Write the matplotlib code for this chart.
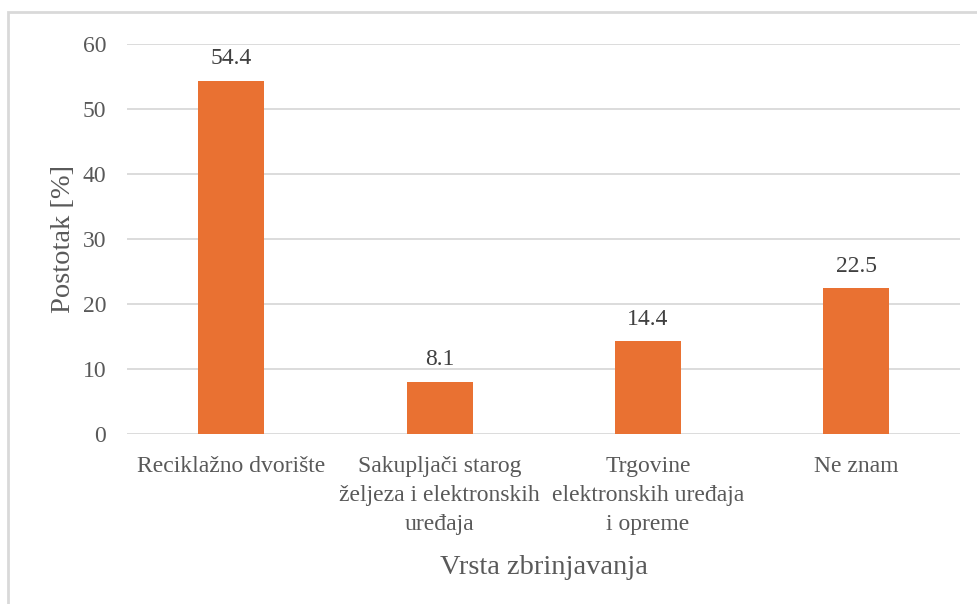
import matplotlib
matplotlib.use("Agg")
import matplotlib.pyplot as plt
from matplotlib.patches import Rectangle

categories = ["Reciklažno dvorište",
              "Sakupljači starog\nželjeza i elektronskih\nuređaja",
              "Trgovine\nelektronskih uređaja\ni opreme",
              "Ne znam"]
values = [54.4, 8.1, 14.4, 22.5]
yticks = [0, 10, 20, 30, 40, 50, 60]

BAR_COLOR = "#E97132"
TEXT_COLOR = "#595959"
GRID_COLOR = "#D9D9D9"

plt.rcParams["font.family"] = ["Liberation Serif", "DejaVu Serif"]

fig = plt.figure(figsize=(9.78, 6.04), dpi=100)
ax = fig.add_axes([0.130, 0.281, 0.852, 0.646])

# outer chart frame, cut off at right and bottom
fig.patches.append(Rectangle((8 / 978, -0.1), 1.2, 1.1 - 12 / 604,
                             transform=fig.transFigure, fill=False,
                             edgecolor=GRID_COLOR, lw=2))

x = range(len(categories))
bars = ax.bar(x, values, width=0.317, color=BAR_COLOR, zorder=3)

for b, v in zip(bars, values):
    ax.annotate(f"{v:.1f}", (b.get_x() + b.get_width() / 2, v),
                xytext=(0, 8), textcoords="offset points",
                ha="center", va="bottom", fontsize=17, color="#404040")

ax.set_ylim(0, 60)
ax.set_xlim(-0.5, len(categories) - 0.5)
ax.set_yticks(yticks)
ax.set_xticks(list(x))
ax.set_xticklabels(categories, fontsize=17, color=TEXT_COLOR, linespacing=1.5)
ax.tick_params(axis="y", labelsize=17, labelcolor=TEXT_COLOR, length=0, pad=15)
ax.tick_params(axis="x", length=0, pad=16)
ax.grid(axis="y", color=GRID_COLOR, lw=1.3, zorder=0)
for s in ax.spines.values():
    s.set_visible(False)

ax.set_ylabel("Postotak [%]", fontsize=20.5, color=TEXT_COLOR, labelpad=5)
ax.set_xlabel("Vrsta zbrinjavanja", fontsize=20.5, color=TEXT_COLOR, labelpad=14)

fig.savefig("out.png", dpi=100)
